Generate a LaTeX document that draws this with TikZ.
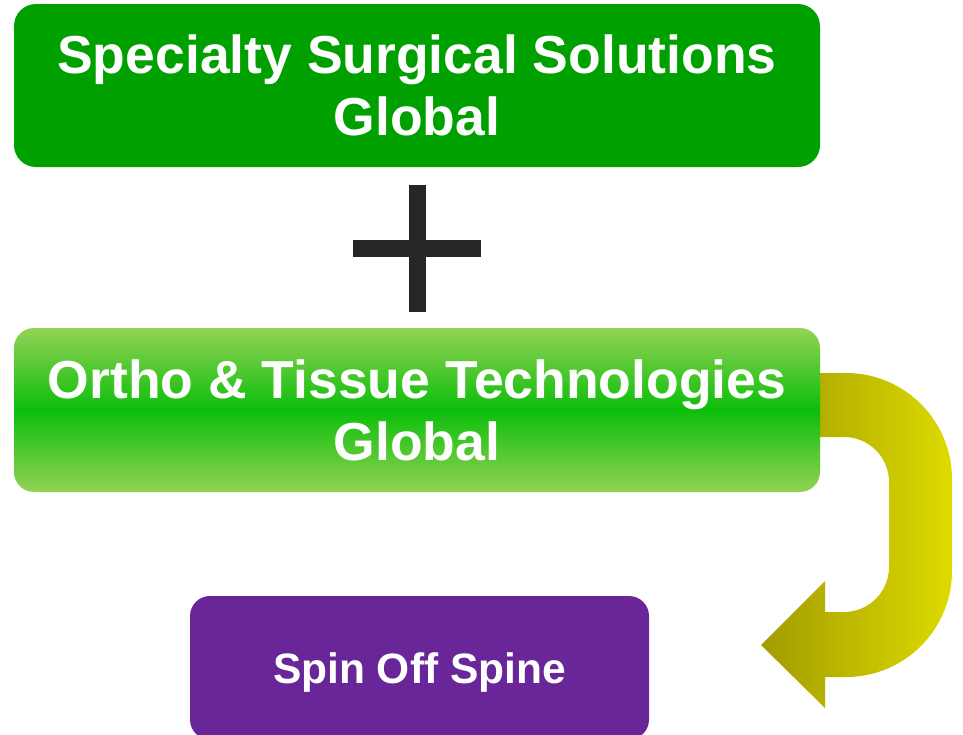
\documentclass[tikz,border=0pt]{standalone}
\usepackage{fontspec}
\setmainfont{Liberation Sans}
\definecolor{boxgreen}{RGB}{0,160,0}
\definecolor{lightgreen}{RGB}{148,210,86}
\definecolor{midgreen}{RGB}{12,190,10}
\definecolor{spinpurple}{RGB}{104,38,152}
\definecolor{arrowdark}{RGB}{162,156,0}
\definecolor{arrowlight}{RGB}{222,218,0}
\definecolor{plusgray}{RGB}{38,38,38}
\tikzset{
  boxtext/.style={text=white, align=center, inner sep=0pt,
    font=\bfseries\fontsize{53.5}{62}\selectfont},
  spintext/.style={text=white, align=center, inner sep=0pt,
    font=\bfseries\fontsize{42.5}{50}\selectfont,
    text height=30.4pt, text depth=0pt},
}
\begin{document}
\begin{tikzpicture}[x=1pt,y=-1pt]
\useasboundingbox (0,0) rectangle (963,734);
\clip (0,0) rectangle (963,734);
% curved arrow (drawn first, its start hidden behind the second box)
\shade[left color=arrowdark, right color=arrowlight]
  (800,373) -- (846,373) arc[start angle=-90, end angle=0, radius=106]
  -- (952,571) arc[start angle=0, end angle=90, radius=106]
  -- (825,677) -- (825,708) -- (761,645) -- (825,581) -- (825,612)
  -- (844,612) arc[start angle=90, end angle=0, radius=45]
  -- (889,482) arc[start angle=0, end angle=-90, radius=45]
  -- (800,437) -- cycle;
% boxes
\node[boxtext, fill=boxgreen, rounded corners=22pt,
  minimum width=806pt, minimum height=163pt] (ssg) at (417,85.5)
  {Specialty Surgical Solutions\\Global};
\node[boxtext, top color=lightgreen, bottom color=lightgreen, middle color=midgreen,
  rounded corners=20pt, minimum width=806pt, minimum height=164pt] (otg) at (417,410)
  {Ortho \& Tissue Technologies\\Global};
\node[spintext, fill=spinpurple, rounded corners=20pt,
  minimum width=459pt, minimum height=143.6pt] (spine) at (419.5,667.8)
  {Spin Off Spine};
% plus sign
\fill[plusgray] (409,185) rectangle (426,312);
\fill[plusgray] (353,240) rectangle (481,257);
\end{tikzpicture}
\end{document}
